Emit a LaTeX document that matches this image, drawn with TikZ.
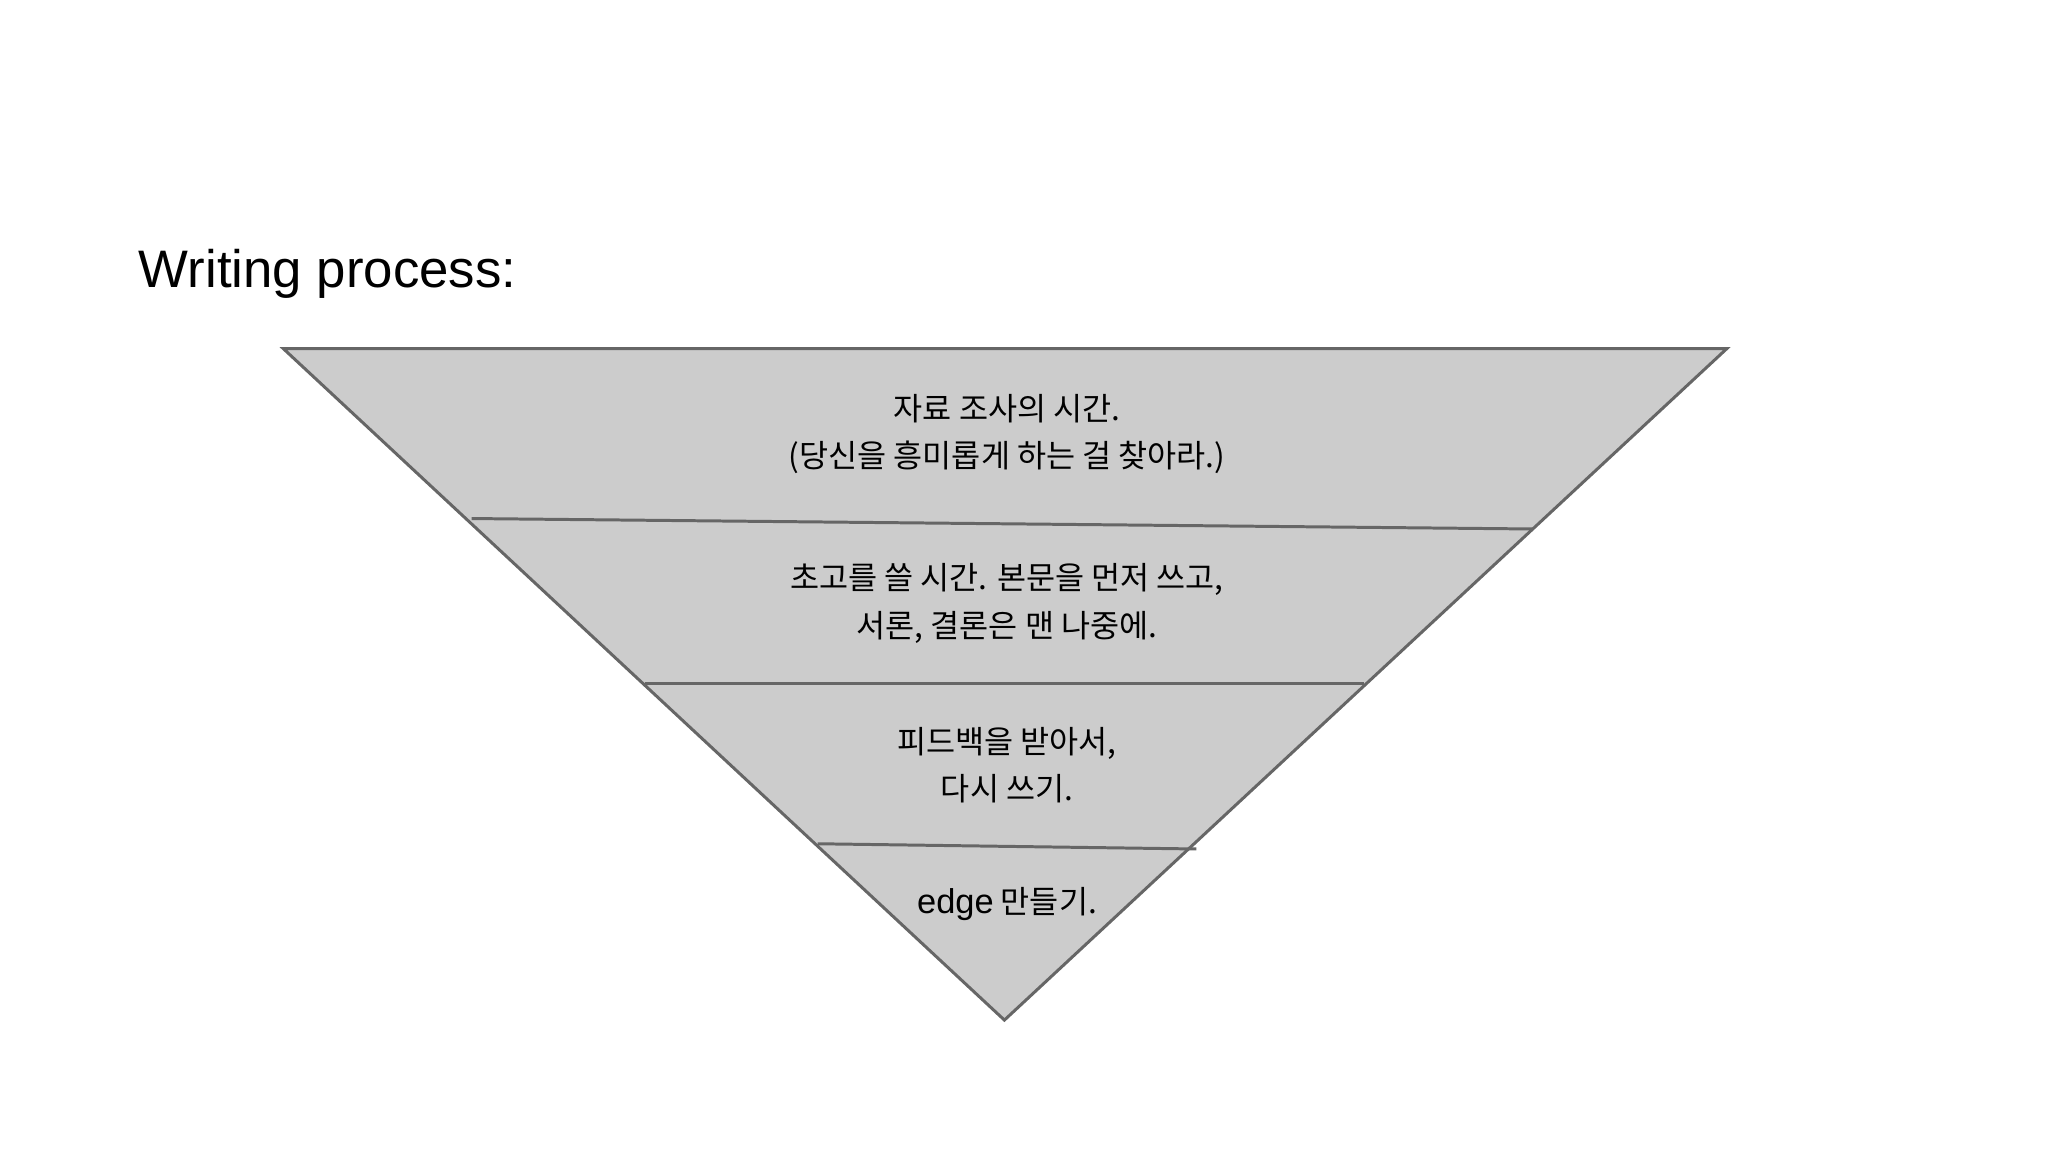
\documentclass[tikz,border=0pt]{standalone}
\usepackage{fontspec}
\setmainfont{Liberation Sans}
\newfontfamily\kr{Noto Sans CJK KR}[Scale=0.95]
\definecolor{tri}{HTML}{CCCCCC}
\definecolor{edg}{HTML}{666666}
\begin{document}
\begin{tikzpicture}[x=0.02cm,y=-0.02cm]
\tikzset{lbl/.style={align=center,font=\fontsize{14.5pt}{20.5pt}\selectfont\kr,inner sep=0pt},
  ln/.style={draw=edg,line width=1.3pt}}
\useasboundingbox (0,0) rectangle (1568,882);
\coordinate (tl) at (217,267); \coordinate (tr) at (1322,267); \coordinate (bt) at (769,781);
\fill[tri] (tl)--(tr)--(bt)--cycle;
\draw[ln] (361,397)--(1173,405);
\draw[ln] (494,523)--(1044,523);
\draw[ln] (626,646)--(916,650);
\draw[ln,line join=miter] (tl)--(tr)--(bt)--cycle;
\node[anchor=west,font=\fontsize{23pt}{27pt}\selectfont,inner sep=0pt] (title) at (106,210) {Writing process:};
\node[lbl] (t1) at (771,332) {자료 조사의 시간.\\(당신을 흥미롭게 하는 걸 찾아라.)};
\node[lbl] (t2) at (771,462) {초고를 쓸 시간. 본문을 먼저 쓰고,\\서론, 결론은 맨 나중에.};
\node[lbl] (t3) at (771,586) {피드백을 받아서,\\다시 쓰기.};
\node[lbl] (t4) at (771,692) {{\rmfamily\fontsize{15pt}{18pt}\selectfont edge} 만들기.};
\end{tikzpicture}
\end{document}
